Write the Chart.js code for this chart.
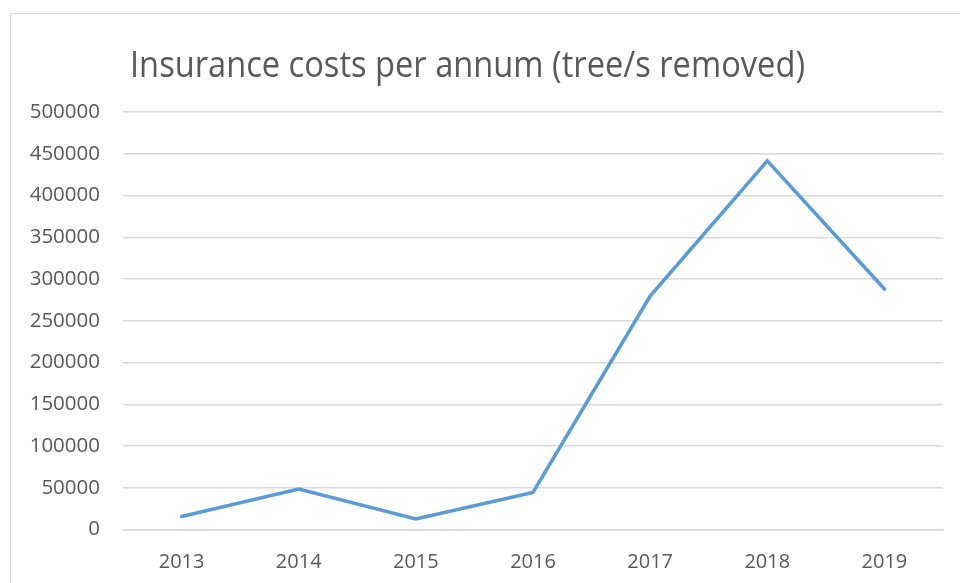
<!DOCTYPE html>
<html>
<head>
<meta charset="utf-8">
<script src="https://cdn.jsdelivr.net/npm/chart.js@4.4.1/dist/chart.umd.min.js"></script>
<style>
  html, body { margin: 0; padding: 0; background: #fff; overflow: hidden; }
  #wrap { position: relative; width: 960px; height: 583px; }
  #frame { position: absolute; left: 10px; top: 13px; width: 980px; height: 600px; border: 1px solid #d9d9d9; box-sizing: border-box; }
  canvas { position: absolute; left: 0; top: 0; }
</style>
</head>
<body>
<div id="wrap">
  <div id="frame"></div>
  <canvas id="c" width="960" height="583"></canvas>
</div>
<script>
const chartTitle = "Insurance costs per annum (tree/s removed)";
const years = ["2013", "2014", "2015", "2016", "2017", "2018", "2019"];
const costs = [15500, 48500, 12500, 44500, 279500, 441500, 288000];
const yMin = 0;
const yMax = 500000;
const yStep = 50000;

const FONT = "'Open Sans', 'DejaVu Sans', sans-serif";
const TEXT = "#595959";
const GRID = "#d9d9d9";

const titlePlugin = {
  id: 'excelTitle',
  afterDraw(chart) {
    const ctx = chart.ctx;
    ctx.save();
    ctx.font = "36px " + FONT;
    ctx.fillStyle = TEXT;
    ctx.textAlign = "center";
    ctx.textBaseline = "alphabetic";
    ctx.fillText(chartTitle, 467.5, 77, 675);
    ctx.restore();
  }
};

new Chart(document.getElementById('c'), {
  type: 'line',
  data: {
    labels: years,
    datasets: [{
      data: costs,
      borderColor: '#5b9bd5',
      borderWidth: 3.5,
      pointRadius: 0,
      pointHoverRadius: 0,
      tension: 0,
      fill: false,
      borderCapStyle: 'round',
      borderJoinStyle: 'miter'
    }]
  },
  options: {
    responsive: false,
    animation: false,
    events: [],
    layout: { padding: { top: 112, left: 0, right: 17, bottom: 0 } },
    plugins: {
      legend: { display: false },
      title: { display: false },
      tooltip: { enabled: false }
    },
    scales: {
      x: {
        offset: true,
        grid: { display: false, drawTicks: false },
        border: { display: true, color: GRID, width: 1.5 },
        ticks: { color: TEXT, font: { family: FONT, size: 20 }, padding: 21, maxRotation: 0 },
        afterFit(scale) { scale.height = 53.5; }
      },
      y: {
        min: yMin,
        max: yMax,
        grid: { color: GRID, lineWidth: 1.5, drawTicks: false },
        border: { display: false },
        ticks: {
          stepSize: yStep,
          color: TEXT,
          font: { family: FONT, size: 20.5 },
          padding: 23,
          callback: (v) => String(v)
        },
        afterFit(scale) { scale.width = 123; }
      }
    }
  },
  plugins: [titlePlugin]
});
</script>
</body>
</html>
